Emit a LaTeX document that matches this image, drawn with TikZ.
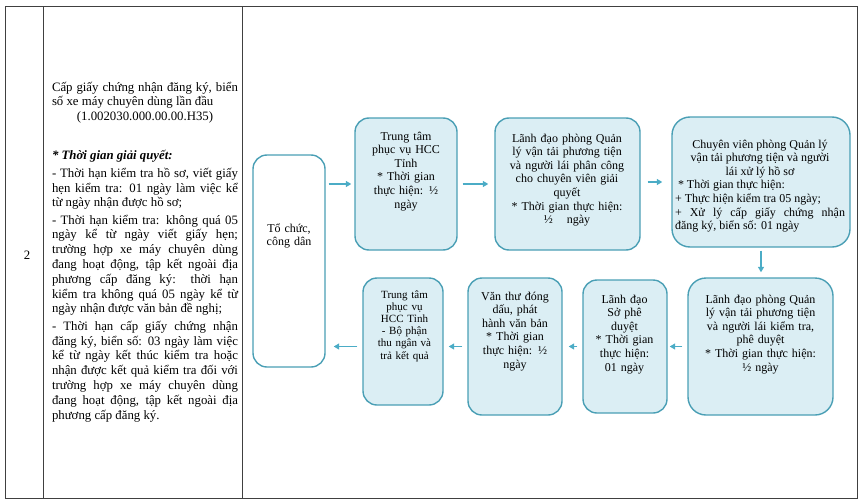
\documentclass[tikz,border=0pt]{standalone}
\usepackage{fontspec}
\setmainfont{Liberation Serif}
\usetikzlibrary{arrows.meta}
\definecolor{boxfill}{HTML}{DBEEF4}
\definecolor{boxline}{HTML}{4A9FB5}
\definecolor{arrowc}{HTML}{4BACC6}
\definecolor{gridc}{HTML}{404040}
\tikzset{
  flowbox/.style={draw=boxline, line width=1.4pt, fill=boxfill, rounded corners=14pt, inner sep=0pt},
  startbox/.style={flowbox, fill=white},
  boxtext/.style={inner sep=0pt, font=\fontsize{12}{13.6}\selectfont, align=center, anchor=base},
  smalltext/.style={boxtext, font=\fontsize{11}{12.2}\selectfont},
  flowarrow/.style={draw=arrowc, line width=1.3pt, -{Triangle[length=5.5pt,width=6pt]}},
  gridline/.style={draw=gridc, line width=1pt}
}
\begin{document}
\begin{tikzpicture}[x=1pt,y=-1pt]
\useasboundingbox (0,0) rectangle (864,503);
% table
\draw[gridline] (5,7) rectangle (857,498);
\draw[gridline] (43,7) -- (43,498);
\draw[gridline] (242,7) -- (242,498);
\node[inner sep=0pt, anchor=base, font=\fontsize{12.8}{14.8}\selectfont] (num) at (27,259) {2};
\node[inner sep=0pt, anchor=base, text width=186pt, align=justify, font=\fontsize{12.8}{14.8}\selectfont] (desc) at (145,91) {%
\setlength{\parskip}{2.5pt}%
Cấp giấy chứng nhận đăng ký, biển\linebreak số xe máy chuyên dùng lần đầu\par
\centerline{(1.002030.000.00.00.H35)}\par
\vspace{22pt}
\textbf{\textit{* Thời gian giải quyết:}}\par
- Thời hạn kiểm tra hồ sơ, viết giấy\linebreak hẹn kiểm tra: 01 ngày làm việc kể\linebreak từ ngày nhận được hồ sơ;\par
- Thời hạn kiểm tra: không quá 05\linebreak ngày kể từ ngày viết giấy hẹn;\linebreak trường hợp xe máy chuyên dùng\linebreak đang hoạt động, tập kết ngoài địa\linebreak phương cấp đăng ký: thời hạn\linebreak kiểm tra không quá 05 ngày kể từ\linebreak ngày nhận được văn bản đề nghị;\par
- Thời hạn cấp giấy chứng nhận\linebreak đăng ký, biển số: 03 ngày làm việc\linebreak kể từ ngày kết thúc kiểm tra hoặc\linebreak nhận được kết quả kiểm tra đối với\linebreak trường hợp xe máy chuyên dùng\linebreak đang hoạt động, tập kết ngoài địa\linebreak phương cấp đăng ký.};
% boxes
\node[startbox, minimum width=72pt, minimum height=212pt] (b0) at (289,261) {};
\node[flowbox, minimum width=102pt, minimum height=132pt] (b1) at (406,184) {};
\node[flowbox, minimum width=145pt, minimum height=132pt] (b2) at (567.5,184) {};
\node[flowbox, minimum width=178pt, minimum height=130pt, rounded corners=18pt] (b3) at (761,182) {};
\node[flowbox, minimum width=145pt, minimum height=137pt, rounded corners=18pt] (b4) at (760.5,346.5) {};
\node[flowbox, minimum width=84pt, minimum height=133pt] (b5) at (625,346.5) {};
\node[flowbox, minimum width=94pt, minimum height=137pt] (b6) at (515,346.5) {};
\node[flowbox, minimum width=80pt, minimum height=127pt] (b7) at (403,341.5) {};
% texts
\node[boxtext, text width=64pt] (t0) at (289,232) {Tổ chức,\\công dân};
\node[boxtext, text width=96pt] (t1) at (406,140) {Trung tâm\\phục vụ HCC\\Tỉnh\\{}* Thời gian\\thực hiện: ½\\ngày};
\node[boxtext, text width=140pt] (t2) at (567,142) {Lãnh đạo phòng Quản\\lý vận tải phương tiện\\và người lái phân công\\cho chuyên viên giải\\quyết\\{}* Thời gian thực hiện:\\½\hspace{14pt}ngày};
\node[boxtext, text width=170pt, align=justify] (t3) at (760,148) {%
\centerline{Chuyên viên phòng Quản lý}\par
\centerline{vận tải phương tiện và người}\par
\centerline{lái xử lý hồ sơ}\par
\hspace*{3pt}* Thời gian thực hiện:\par
+ Thực hiện kiểm tra 05 ngày;\par
+ Xử lý cấp giấy chứng nhận\linebreak đăng ký, biển số: 01 ngày};
\node[boxtext, text width=140pt] (t4) at (760.5,303) {Lãnh đạo phòng Quản\\lý vận tải phương tiện\\và người lái kiểm tra,\\phê duyệt\\{}* Thời gian thực hiện:\\½\hspace{4pt}ngày};
\node[boxtext, text width=78pt] (t5) at (624.5,303) {Lãnh đạo\\Sở phê\\duyệt\\{}* Thời gian\\thực hiện:\\01\hspace{4pt}ngày};
\node[boxtext, text width=88pt] (t6) at (515,300) {Văn thư đóng\\dấu, phát\\hành văn bản\\{}* Thời gian\\thực hiện: ½\\ngày};
\node[smalltext, text width=74pt] (t7) at (404.5,298) {Trung tâm\\phục vụ\\HCC Tỉnh\\- Bộ phận\\thu ngân và\\trả kết quả};
% arrows
\draw[flowarrow, shorten <=3pt, shorten >=3pt] (b0.east |- b1.west) -- (b1.west);
\draw[flowarrow, shorten <=5pt, shorten >=6pt] (b1.east) -- (b2.west);
\draw[flowarrow, shorten <=7pt, shorten >=9pt] (b2.east |- b3.west) -- (b3.west);
\draw[flowarrow, shorten <=3pt, shorten >=5pt] (b3.south) -- (b3.south |- b4.north);
\draw[flowarrow, shorten <=5pt, shorten >=2pt] (b4.west) -- (b5.east);
\draw[flowarrow, shorten <=5pt, shorten >=6pt] (b5.west) -- (b6.east);
\draw[flowarrow, shorten <=5pt, shorten >=5pt] (b6.west) -- (b6.west -| b7.east);
\draw[flowarrow, shorten <=5pt, shorten >=8pt] (b7.west |- b6.west) -- (b0.east |- b6.west);
\end{tikzpicture}
\end{document}
